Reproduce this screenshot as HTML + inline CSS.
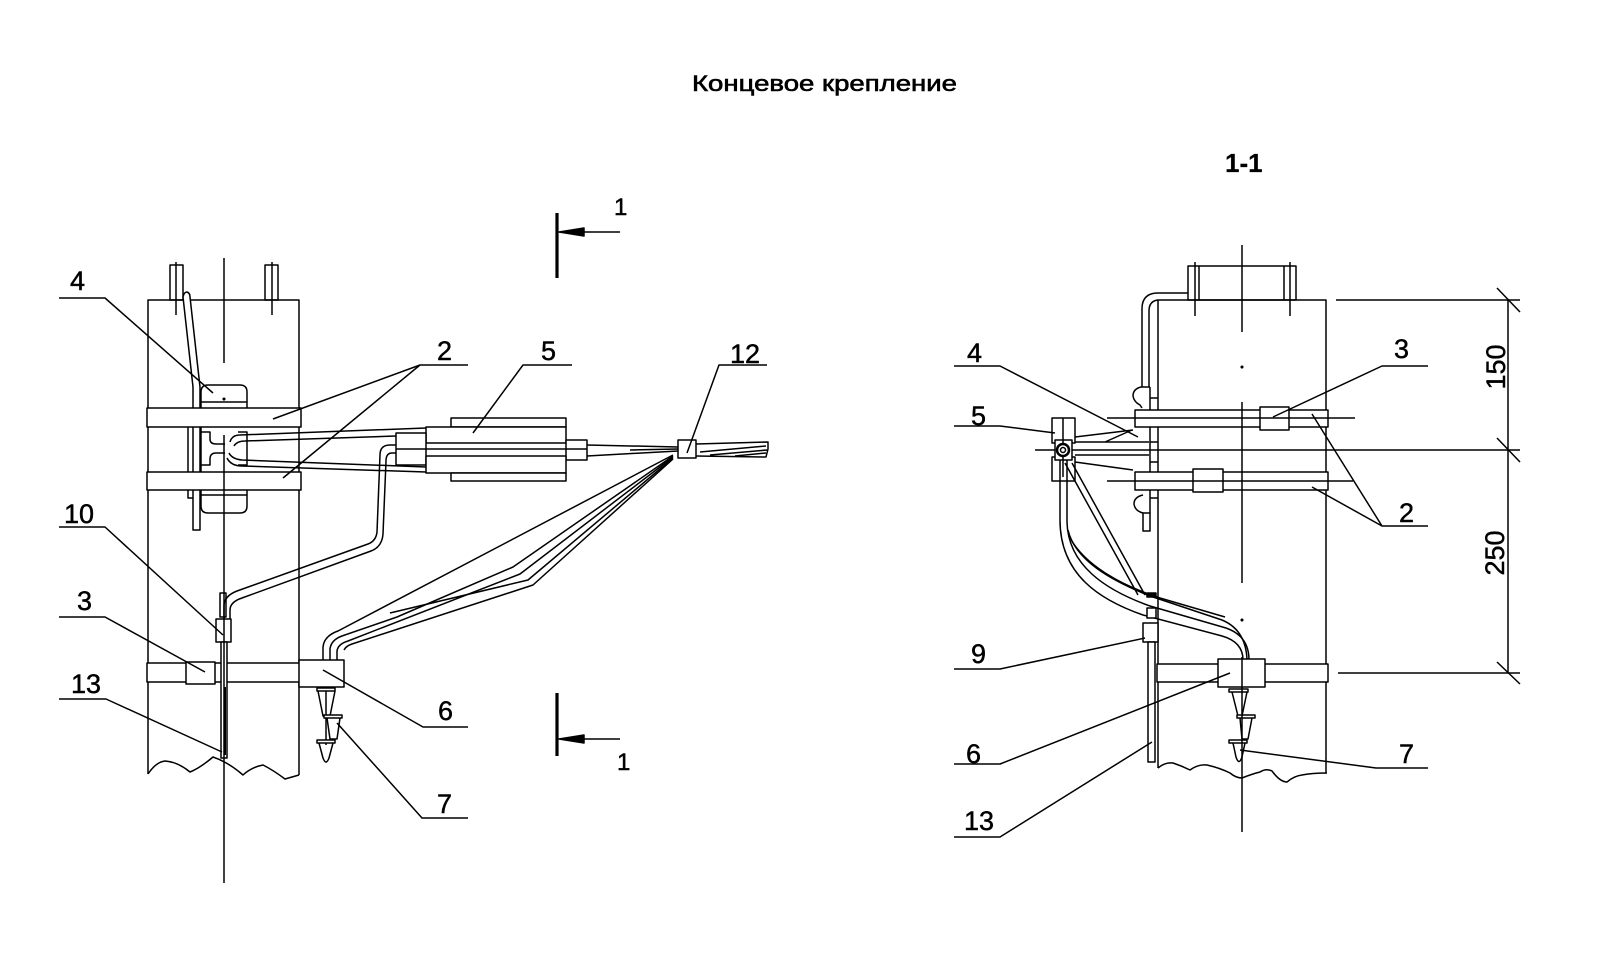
<!DOCTYPE html>
<html><head><meta charset="utf-8"><style>
html,body{margin:0;padding:0;background:#fff;}
svg{display:block;}
text{font-family:"Liberation Sans",Arial,sans-serif;fill:#000;stroke:#000;stroke-width:0.45;}
</style></head><body>
<svg width="1613" height="967" viewBox="0 0 1613 967" xmlns="http://www.w3.org/2000/svg">
<rect x="0" y="0" width="1613" height="967" fill="#fff"/>
<g fill="none" stroke="#000" stroke-width="1.5" stroke-linejoin="round">

<!-- ================= LEFT VIEW ================= -->
<path d="M148,774 L148,300 L299,300 L299,775"/>
<path d="M148,774 Q156,762 165,761 Q178,762 190,772 Q200,768 213,757 Q228,762 243,775 Q252,767 263,765 Q273,770 285,779 Q292,777 299,775"/>
<rect x="170" y="265" width="13" height="35"/>
<rect x="265" y="265" width="13" height="35"/>
<path d="M176,262 V315 M272,262 V315"/>
<path d="M193,530 L193,387 L183,297 Q184,292 187,292 Q190,293 190,297 L200,387 L200,530 Z" fill="#fff"/>
<path d="M188,427 V498 H193"/>
<path d="M201,408 V392 Q201,385 208,385 L240,385 Q247,385 247,392 V408" fill="#fff"/>
<path d="M201,402 H247"/>
<path d="M201,427 V472"/>
<path d="M201,432 H210 V439 Q210,444 216,444 H225"/>
<path d="M225,453 H216 Q210,453 210,459 V465 H201"/>
<path d="M238,432 H247 V465 H238"/>
<path d="M201,490 V506 Q201,513 208,513 L240,513 Q247,513 247,506 V490" fill="#fff"/>
<path d="M201,495 H247"/>
<rect x="147" y="408" width="154" height="19" fill="#fff"/>
<rect x="147" y="472" width="154" height="18" fill="#fff"/>
<path d="M230,442 Q232,435 240,435 L426,428"/>
<path d="M234,446 Q237,441 245,441 L396,436"/>
<path d="M229,453 Q232,459 242,460 L426,467"/>
<path d="M227,458 Q231,466 242,466 L426,472"/>
<rect x="451" y="418" width="115" height="9" fill="#fff"/>
<rect x="426" y="427" width="140" height="16" fill="#fff"/>
<rect x="396" y="433" width="30" height="32" fill="#fff"/>
<rect x="566" y="440" width="21" height="20" fill="#fff"/>
<path d="M396,449 H587"/>
<rect x="426" y="456" width="140" height="17" fill="#fff"/>
<rect x="451" y="473" width="115" height="8" fill="#fff"/>
<path d="M587,445 L678,447 M587,456 L678,451 M630,450 L678,449"/>
<path d="M696,444 L768,442 L768,449 L766,457 L696,456"/>
<path d="M700,452 L766,446 M710,455 L767,450 M735,456 L766,453"/>
<rect x="678" y="440" width="18" height="18" fill="#fff"/>
<path d="M396,445 L390,445 Q380,445 380,455 L377,532 Q376,541 368,544 L237,591 Q224,596 224,606 L224,619"/>
<path d="M396,453 L392,453 Q386,453 386,461 L383,534 Q382,547 371,551 L242,598 Q230,602 230,610 L230,619"/>
<rect x="220" y="593" width="6" height="24"/>
<rect x="216" y="619" width="15" height="23" fill="#fff"/>
<path d="M323,660 L323,647 Q324,636 338,631 L673,455"/>
<path d="M330,660 L330,649 Q331,640 342,636 L397,617 L513,567 L673,456"/>
<path d="M337,660 L337,651 Q338,644 348,641 L520,574 L673,457"/>
<path d="M344,650 Q346,646 352,644 L533,585 L673,459"/>
<path d="M390,613 L528,580 L673,458"/>
<rect x="147" y="663" width="163" height="19" fill="#fff"/>
<rect x="186" y="662" width="29" height="22" fill="#fff"/>
<rect x="221" y="642" width="6" height="116" fill="#fff"/>
<path d="M225,687 V755" stroke-width="2"/>
<rect x="299" y="660" width="45" height="27" fill="#fff"/>
<path d="M326,687 V745"/>
<rect x="317" y="688" width="18" height="3" fill="#fff"/>
<path d="M318,691 L323,716 L330,716 L335,691"/>
<rect x="324" y="715" width="18" height="3" fill="#fff"/>
<path d="M327,718 L330,739 L337,739 L340,718"/>
<rect x="317" y="740" width="18" height="3" fill="#fff"/>
<path d="M319,743 L323,758 Q326,766 329,758 L333,743"/>
<path d="M224,258 V363 M224,435 V883"/>
<circle cx="224" cy="399" r="0.8" fill="#000"/>
<path d="M59,298 H105 L213,393"/>
<path d="M468,365 H420 L273,419 M420,365 L283,478"/>
<path d="M572,365 H523 L473,433"/>
<path d="M767,365 H719 L687,453"/>
<path d="M59,527 H105 L223,635"/>
<path d="M59,617 H105 L205,672"/>
<path d="M59,699 H106 L222,752"/>
<path d="M468,727 H423 L323,670"/>
<path d="M468,818 H422 L337,723"/>
<path d="M557,213 V278 M557,693 V756" stroke-width="3.2"/>
<path d="M620,232 H575 M620,739 H575"/>
<path d="M559,232 L584,228 L584,236 Z M559,739 L584,735 L584,743 Z" fill="#000"/>

<!-- ================= RIGHT VIEW ================= -->
<path d="M1158,768 V300 H1326 V773"/>
<path d="M1158,768 Q1165,762 1173,763 Q1182,766 1190,770 Q1198,764 1207,765 Q1220,768 1230,773 Q1236,778 1242,778 Q1252,774 1260,772 Q1266,768 1272,771 Q1280,782 1287,782 Q1294,776 1302,775 Q1312,773 1327,773"/>
<rect x="1188" y="266" width="108" height="34"/>
<path d="M1195,262 V316 M1290,262 V316 M1199,266 V300 M1284,266 V300"/>
<path d="M1188,293 L1158,293 Q1142,293 1142,309 L1142,387"/>
<path d="M1158,300 Q1149,301 1149,311 L1149,387"/>
<path d="M1150,387 L1141,387 Q1133,389 1133,396 Q1134,402 1140,405 L1142,408"/>
<path d="M1150,387 V513 M1150,398 H1158 M1150,442 H1158 M1150,462 H1158 M1150,498 H1158"/>
<path d="M1143,495 Q1134,497 1134,504 Q1135,511 1143,513"/>
<rect x="1143" y="513" width="7" height="18"/>
<rect x="1135" y="410" width="193" height="17" fill="#fff"/>
<rect x="1135" y="472" width="193" height="18" fill="#fff"/>
<rect x="1260" y="407" width="29" height="23" fill="#fff"/>
<rect x="1193" y="469" width="30" height="23" fill="#fff"/>
<path d="M1107,418 H1355 M1107,481 H1353 M1035,450 H1520"/>
<path d="M1075,437 L1133,430 M1105,442 L1132,430 M1075,442 H1149 M1075,455 H1149 M1075,462 L1133,470"/>
<rect x="1052" y="418" width="23" height="25" fill="#fff"/>
<rect x="1052" y="457" width="23" height="24" fill="#fff"/>
<rect x="1055" y="440" width="17" height="20" fill="#fff"/>
<path d="M1063,418 V477"/>
<circle cx="1063" cy="450" r="6" stroke-width="2.5" fill="#fff"/>
<circle cx="1063" cy="450" r="2.5"/>
<path d="M1060,460 L1060,520 C1060,575 1100,600 1143,615 L1222,636 Q1243,642 1243,660"/>
<path d="M1067,460 L1067,522 C1068,565 1105,590 1150,606 L1226,628 Q1249,636 1249,660"/>
<path d="M1068,530 C1075,560 1110,580 1150,596 L1222,620 Q1246,630 1247,660"/>
<path d="M1070,538 C1085,565 1120,585 1160,598 L1225,617"/>
<path d="M1065,463 L1138,595 M1072,463 L1145,595"/>
<rect x="1147" y="593" width="9" height="4" fill="#000"/>
<rect x="1147" y="608" width="9" height="10" fill="#fff"/>
<rect x="1143" y="623" width="15" height="19" fill="#fff"/>
<rect x="1148" y="642" width="7" height="120" fill="#fff"/>
<rect x="1157" y="664" width="171" height="18" fill="#fff"/>
<rect x="1218" y="659" width="47" height="28" fill="#fff"/>
<rect x="1229" y="689" width="19" height="3" fill="#fff"/>
<path d="M1232,692 L1238,716 L1242,716 L1247,692"/>
<rect x="1237" y="715" width="18" height="3" fill="#fff"/>
<path d="M1240,718 L1242,739 L1248,739 L1252,718"/>
<rect x="1229" y="740" width="18" height="3" fill="#fff"/>
<path d="M1233,743 L1236,757 Q1239,766 1242,757 L1245,743"/>
<path d="M1242,245 V332 M1242,402 V583 M1242,657 V832"/>
<circle cx="1242" cy="367" r="0.8" fill="#000"/>
<circle cx="1242" cy="620" r="0.8" fill="#000"/>
<path d="M954,366 H1000 L1138,437"/>
<path d="M954,426 H1000 L1055,433"/>
<path d="M954,669 H1000 L1145,638"/>
<path d="M954,764 H1000 L1230,673"/>
<path d="M954,837 H1000 L1152,742"/>
<path d="M1428,366 H1382 L1273,417"/>
<path d="M1428,526 H1382 L1312,414 M1382,526 L1312,487"/>
<path d="M1428,768 H1376 L1240,750"/>
<path d="M1336,300 H1520 M1338,673 H1520 M1508,300 V673"/>
<path d="M1497,288 L1520,312 M1497,438 L1520,462 M1497,662 L1520,684"/>
</g>

<text x="692" y="91" font-size="22" textLength="265" lengthAdjust="spacingAndGlyphs" style="stroke-width:0.6">Концевое крепление</text>
<text x="1225" y="172" font-size="26" font-weight="bold" style="stroke-width:0.2">1-1</text>
<g font-size="27">
<text x="70" y="290">4</text>
<text x="64" y="523">10</text>
<text x="77" y="610">3</text>
<text x="71" y="693">13</text>
<text x="437" y="360">2</text>
<text x="541" y="360">5</text>
<text x="730" y="363">12</text>
<text x="438" y="720">6</text>
<text x="437" y="813">7</text>
<text x="967" y="362">4</text>
<text x="971" y="425">5</text>
<text x="971" y="663">9</text>
<text x="966" y="763">6</text>
<text x="964" y="830">13</text>
<text x="1394" y="358">3</text>
<text x="1399" y="522">2</text>
<text x="1399" y="763">7</text>
<text transform="translate(1505,367) rotate(-90)" text-anchor="middle">150</text>
<text transform="translate(1504,553) rotate(-90)" text-anchor="middle">250</text>
</g>
<g font-size="24">
<text x="614" y="215">1</text>
<text x="617" y="770">1</text>
</g>
</svg>
</body></html>
